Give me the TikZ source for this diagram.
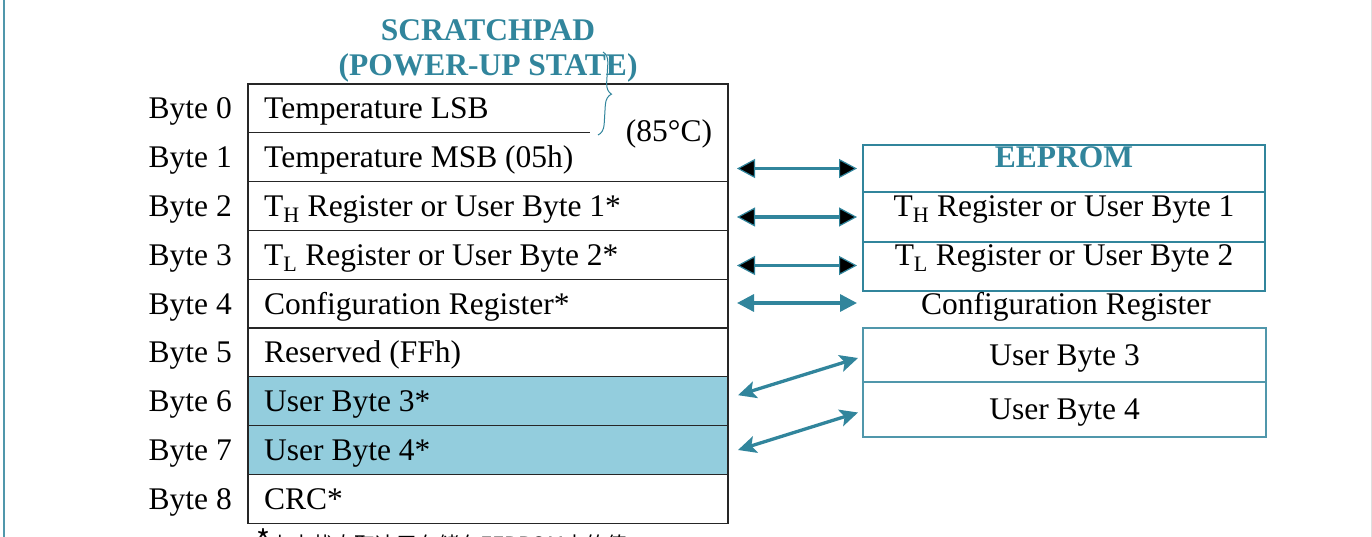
\documentclass[tikz,border=0pt]{standalone}
\usepackage{fontspec}
\setmainfont{Liberation Serif}
\newfontfamily\cjk{Noto Sans CJK SC}
\usetikzlibrary{arrows.meta,calc,decorations.pathreplacing}
\definecolor{teal1}{HTML}{31859C}
\definecolor{fillblue}{HTML}{93CDDD}
\tikzset{
  txt/.style={inner sep=0pt, text height=20.8pt, text depth=0pt},
  row/.style={anchor=north west, minimum width=480pt, minimum height=48.8pt, inner sep=0pt, outer sep=0pt},
  shaded/.style={fill=fillblue},
  tline/.style={draw=black!85, line width=1.3pt},
  ttl/.style={inner sep=0pt, font=\fontsize{31.5}{33}\selectfont\bfseries, text=teal1},
  ebox/.style={draw=teal1, line width=2pt, anchor=north west, minimum width=402pt,
    inner sep=0pt, outer sep=0pt, text height=20.8pt, text depth=22pt},
  ubox/.style={draw=teal1!85, line width=1.6pt, anchor=north west, minimum width=403pt,
    inner sep=0pt, outer sep=0pt, text height=20.8pt, text depth=0pt},
  arrb/.style={draw=teal1, line width=3.3pt, {Triangle[length=18pt, width=19pt, fill=black, line width=1.2pt]}-{Triangle[length=18pt, width=19pt, fill=black, line width=1.2pt]}},
  arrt/.style={draw=teal1, line width=3.3pt, {Triangle[length=17pt, width=17pt, fill=teal1]}-{Triangle[length=17pt, width=17pt, fill=teal1]}},
  arrs/.style={draw=teal1, line width=3.3pt, {Stealth[length=18pt, width=17pt, inset=4pt, fill=teal1]}-{Stealth[length=18pt, width=17pt, inset=4pt, fill=teal1]}},
}
\begin{document}
\begin{tikzpicture}[x=1pt, y=-1pt, font=\fontsize{31.5}{33}\selectfont]
\useasboundingbox (0,0) rectangle (1372,537);
\fill[white] (0,0) rectangle (1372,537);
\draw[teal1!85, line width=2pt] (4,0) -- (4,537);
\draw[gray!25, line width=1pt] (1371,0) -- (1371,537);

% title
\node[ttl, anchor=base] (t1) at (488,41) {SCRATCHPAD};
\node[ttl, anchor=base] (t2) at (488,76) {(POWER-UP STATE)};

% scratchpad rows
\node[row] (r0) at (248,84) {};
\node[row] (r1) at (r0.south west) {};
\node[row] (r2) at (r1.south west) {};
\node[row] (r3) at (r2.south west) {};
\node[row] (r4) at (r3.south west) {};
\node[row] (r5) at (r4.south west) {};
\node[row, shaded] (r6) at (r5.south west) {};
\node[row, shaded] (r7) at (r6.south west) {};
\node[row] (r8) at (r7.south west) {};

\node[txt, anchor=west] (x0) at ($(r0.west)+(16,0)$) {Temperature LSB};
\node[txt, anchor=west] (x1) at ($(r1.west)+(16,0)$) {Temperature MSB (05h)};
\node[txt, anchor=west] (x2) at ($(r2.west)+(16,0)$) {T\textsubscript{H} Register or User Byte 1*};
\node[txt, anchor=west] (x3) at ($(r3.west)+(16,0)$) {T\textsubscript{L} Register or User Byte 2*};
\node[txt, anchor=west] (x4) at ($(r4.west)+(16,0)$) {Configuration Register*};
\node[txt, anchor=west] (x5) at ($(r5.west)+(16,0)$) {Reserved (FFh)};
\node[txt, anchor=west] (x6) at ($(r6.west)+(16,0)$) {User Byte 3*};
\node[txt, anchor=west] (x7) at ($(r7.west)+(16,0)$) {User Byte 4*};
\node[txt, anchor=west] (x8) at ($(r8.west)+(16,0)$) {CRC*};

\draw[tline] (r0.north west) rectangle (r8.south east);
\draw[tline] (r1.north west) -- ++(342,0);
\foreach \i in {2,...,8} {\draw[tline] (r\i.north west) -- (r\i.north east);}

\foreach \i in {0,...,8} {\node[txt, anchor=east] (b\i) at ($(r\i.west)+(-16,0)$) {Byte \i};}

% brace and 85C
\draw[teal1, line width=1pt, decorate, decoration={brace, amplitude=11pt}] (603,52) -- (598,135);
\node[txt] (t85) at (669,131) {(85°C)};

% EEPROM
\node[ebox, minimum height=47pt] (e0) at (863,145) {\bfseries\color{teal1}EEPROM};
\node[ebox, minimum height=50pt] (e1) at (e0.south west) {T\textsubscript{H} Register or User Byte 1};
\node[ebox, minimum height=49pt] (e2) at (e1.south west) {T\textsubscript{L} Register or User Byte 2};
\node[txt] (cfg) at (1066,304) {Configuration Register};
\node[ubox, minimum height=54pt] (u3) at (863,328) {User Byte 3};
\node[ubox, minimum height=55pt] (u4) at (u3.south west) {User Byte 4};

% arrows
\draw[arrb] ($(r1.east |- e0.west)+(9,0)$) -- ($(e0.west)+(-6,0)$);
\draw[arrb] ($(r2.east |- e1.west)+(9,0)$) -- ($(e1.west)+(-6,0)$);
\draw[arrb] ($(r3.east |- e2.west)+(9,-1)$) -- ($(e2.west)+(-6,-1)$);
\draw[arrt] ($(r4.east |- cfg.west)+(9,-1)$) -- ($(e2.south west |- cfg.west)+(-6,-1)$);
\draw[arrs] ($(r6.east)+(10,-6)$) -- ($(u3.west)+(-5,3)$);
\draw[arrs] ($(r7.east)+(10,0)$) -- ($(u4.west)+(-5,3)$);

% footnote (cut by the page edge, as in the reference)
\node[anchor=base west, inner sep=0pt, font=\cjk\fontsize{21}{21}\selectfont] (note) at (256,552) {{\fontsize{30}{30}\selectfont *}上电状态取决于存储在EEPROM中的值};
\end{tikzpicture}
\end{document}
